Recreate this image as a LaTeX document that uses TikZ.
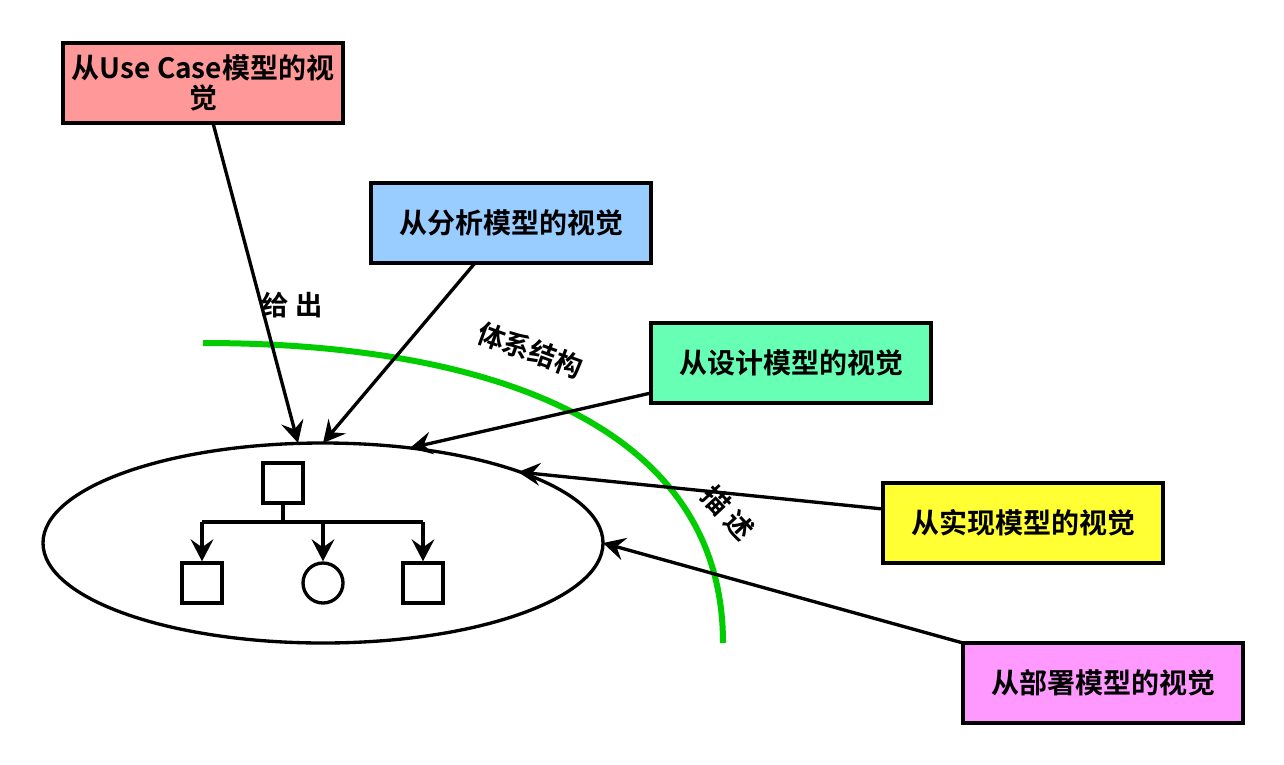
\documentclass[tikz,border=0pt]{standalone}
\usepackage{fontspec}
\setmainfont{Noto Sans CJK SC}[BoldFont={Noto Sans CJK SC Bold}]
\usetikzlibrary{arrows.meta,shapes.geometric}
\definecolor{cpink}{HTML}{FF9999}
\definecolor{cblue}{HTML}{99CCFF}
\definecolor{cmint}{HTML}{66FFB3}
\definecolor{cyel}{HTML}{FFFF33}
\definecolor{cviol}{HTML}{FF99FF}
\definecolor{cgreen}{HTML}{00CC00}
\tikzset{
  viewbox/.style={draw=black, line width=2.5pt, minimum width=210pt, minimum height=60pt,
    inner sep=0pt, align=center, font=\fontsize{21}{22.5}\selectfont\bfseries},
  lbl/.style={font=\fontsize{20.5}{22}\selectfont\bfseries, inner sep=0pt},
  conn/.style={line width=2.5pt, -{Stealth[length=16.5pt,width=17pt,inset=6pt]}},
  thinline/.style={line width=2.5pt},
}
\begin{document}
\begin{tikzpicture}[x=0.75pt,y=-0.75pt]
\useasboundingbox (0,0) rectangle (1284,764);
% boxes
\node[viewbox, fill=cpink] (b1) at (203,83) {从Use Case模型的视\\觉};
\node[viewbox, fill=cblue] (b2) at (511,223) {从分析模型的视觉};
\node[viewbox, fill=cmint] (b3) at (791,363) {从设计模型的视觉};
\node[viewbox, fill=cyel] (b4) at (1023,523) {从实现模型的视觉};
\node[viewbox, fill=cviol] (b5) at (1103,683) {从部署模型的视觉};
% ellipse
\node[ellipse, draw=black, line width=2.5pt, minimum width=420pt, minimum height=150pt, inner sep=0pt] (ell) at (323,543) {};
% endpoints on the ellipse
\coordinate (e1) at (298,443);
\coordinate (e2) at (323,443);
\coordinate (e3) at (410,448);
\coordinate (e4) at (518,472);
\coordinate (e5) at (603,543);
\coordinate (s1) at (213,123);
\coordinate (s2) at (475,263);
\coordinate (s3) at (651,393);
\coordinate (s4) at (883,509);
\coordinate (s5) at (963,643);
% green arc
\draw[cgreen, line width=4.5pt] (203,343) .. controls (480,343) and (723,420) .. (723,643);
% connectors
\draw[conn] (s1) -- (e1);
\draw[conn] (s2) -- (e2);
\draw[conn] (s3) -- (e3);
\draw[conn] (s4) -- (e4);
\draw[conn] (s5) -- (e5);
% labels
\node[lbl] (l1) at (292,305) {给 出};
\node[lbl, rotate=-20] (l2) at (530,350) {体系结构};
\node[lbl, rotate=-47] (l3) at (728,513) {描 述};
% inner structure
\node[draw=black, thinline, minimum size=30pt, inner sep=0pt] (top) at (283,483) {};
\node[draw=black, thinline, minimum size=30pt, inner sep=0pt] (c1) at (202,583) {};
\node[circle, draw=black, thinline, minimum size=30pt, inner sep=0pt] (c2) at (323,583) {};
\node[draw=black, thinline, minimum size=30pt, inner sep=0pt] (c3) at (423,583) {};
\coordinate (j) at (283,522);
\coordinate (jl) at (202,522);
\coordinate (jr) at (423,522);
\coordinate (jm) at (323,522);
\draw[thinline] (top.south) -- (j);
\draw[thinline] (jl) -- (jr);
\draw[conn] (jl) -- (c1.north);
\draw[conn] (jm) -- (c2.north);
\draw[conn] (jr) -- (c3.north);
\end{tikzpicture}
\end{document}
